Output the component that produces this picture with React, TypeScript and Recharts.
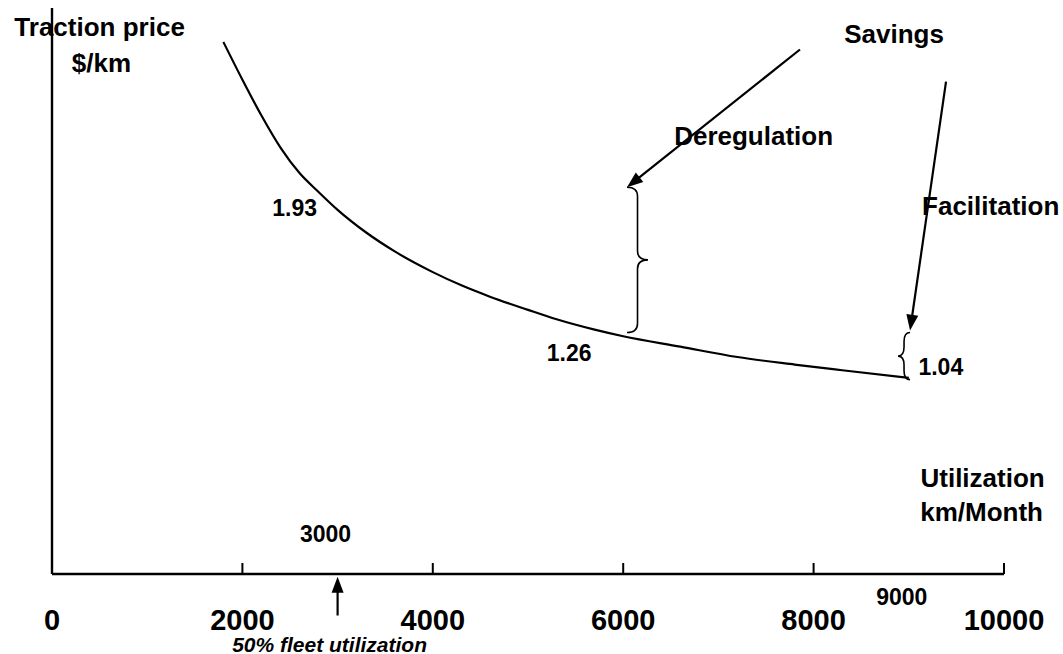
import React from 'react';
import { LineChart, Line, XAxis, YAxis, ReferenceDot, ReferenceLine } from 'recharts';

// utilization (km/month) and traction price ($/km)
const utilization = [1800, 2000, 2200, 2400, 2600, 2800, 3000, 3300, 3600, 4000, 4300, 4600, 5000, 5300, 5700, 6000, 6600, 7200, 7800, 8300, 9000];
const price = [2.82, 2.62, 2.43, 2.26, 2.125, 2.025, 1.93, 1.81, 1.71, 1.6, 1.53, 1.47, 1.4, 1.35, 1.295, 1.26, 1.205, 1.15, 1.11, 1.08, 1.04];
const xTicks = [0, 2000, 4000, 6000, 8000, 10000];

const chartData = utilization.map((km, i) => ({ km, price: price[i] }));

const FONT = '"Liberation Sans", Arial, Helvetica, sans-serif';

// free text placed in chart units
const titles = [
  { text: 'Traction price', x: 500, y: 2.9 },
  { text: '$/km', x: 520, y: 2.71 },
  { text: 'Savings', x: 8845, y: 2.86 },
  { text: 'Deregulation', x: 7370, y: 2.32 },
  { text: 'Facilitation', x: 9860, y: 1.95 },
  { text: 'Utilization', x: 9775, y: 0.51 },
  { text: 'km/Month', x: 9765, y: 0.33 },
];

// labels tied to points of the curve / axis
const valueLabels = [
  { text: '1.93', x: 3000, y: 1.93, dx: -43, dy: -2, size: 23, italic: false },
  { text: '1.26', x: 6000, y: 1.26, dx: -54, dy: 17, size: 23, italic: false },
  { text: '1.04', x: 9000, y: 1.04, dx: 32, dy: -11, size: 23, italic: false },
  { text: '3000', x: 3000, y: 0, dx: -12, dy: -40, size: 23, italic: false },
  { text: '9000', x: 9000, y: 0, dx: -7, dy: 23, size: 23, italic: false },
  { text: '50% fleet utilization', x: 3000, y: 0, dx: -8, dy: 70, size: 21, italic: true },
];

const arrows = [
  [{ x: 7857, y: 2.78 }, { x: 6040, y: 2.05 }],
  [{ x: 9391, y: 2.61 }, { x: 9013, y: 1.29 }],
  [{ x: 3000, y: -0.22 }, { x: 3000, y: -0.015 }],
];

const braces = [
  { seg: [{ x: 6040, y: 2.05 }, { x: 6040, y: 1.28 }], dir: 1, w: 21 },
  { seg: [{ x: 9013, y: 1.28 }, { x: 9013, y: 1.03 }], dir: -1, w: 12 },
];

const textShape = (text: string, dx: number, dy: number, size: number, italic = false) => (p: any) => (
  <text
    x={p.cx + dx}
    y={p.cy + dy}
    textAnchor="middle"
    dominantBaseline="central"
    fontFamily={FONT}
    fontWeight="bold"
    fontStyle={italic ? 'italic' : 'normal'}
    fontSize={size}
    fill="#000"
  >
    {text}
  </text>
);

const arrowShape = (p: any) => {
  const { x1, y1, x2, y2 } = p;
  const len = Math.hypot(x2 - x1, y2 - y1);
  const ux = (x2 - x1) / len;
  const uy = (y2 - y1) / len;
  const head = 16;
  const half = 6;
  const bx = x2 - ux * head;
  const by = y2 - uy * head;
  return (
    <g>
      <line x1={x1} y1={y1} x2={bx + ux} y2={by + uy} stroke="#000" strokeWidth={2.2} />
      <polygon
        points={`${x2},${y2} ${bx - uy * half},${by + ux * half} ${bx + uy * half},${by - ux * half}`}
        fill="#000"
      />
    </g>
  );
};

const braceShape = (dir: number, w: number) => (p: any) => {
  const { x1, y1, y2 } = p;
  const x = x1;
  const xm = x + (dir * w) / 2;
  const xt = x + dir * w;
  const ym = (y1 + y2) / 2;
  const r = Math.min(9, (y2 - y1) / 5);
  const d = `M${x},${y1} Q${xm},${y1} ${xm},${y1 + r} L${xm},${ym - r} Q${xm},${ym} ${xt},${ym} Q${xm},${ym} ${xm},${ym + r} L${xm},${y2 - r} Q${xm},${y2} ${x},${y2}`;
  return <path d={d} fill="none" stroke="#000" strokeWidth={1.6} />;
};

const XTick = (props: any) => {
  const { x, y, payload } = props;
  return (
    <g>
      <line x1={x} y1={y} x2={x} y2={y - 11} stroke="#000" strokeWidth={2} />
      <text
        x={x}
        y={y + 46}
        textAnchor="middle"
        dominantBaseline="central"
        fontFamily={FONT}
        fontWeight="bold"
        fontSize={29}
        fill="#000"
      >
        {payload.value}
      </text>
    </g>
  );
};

export default function App() {
  return (
    <div style={{ position: 'absolute', left: 0, top: 0, background: '#fff' }}>
      <LineChart width={1063} height={654} data={chartData} margin={{ top: 8, right: 59, bottom: 79, left: 51 }}>
        <XAxis
          dataKey="km"
          type="number"
          domain={[0, 10000]}
          ticks={xTicks}
          interval={0}
          height={1}
          tickSize={0}
          tickMargin={0}
          tickLine={false}
          tick={<XTick />}
          axisLine={{ stroke: '#000', strokeWidth: 2.5 }}
        />
        <YAxis
          type="number"
          domain={[0, 3]}
          width={1}
          tick={false}
          tickLine={false}
          axisLine={{ stroke: '#000', strokeWidth: 2.4 }}
        />
        <Line
          type="monotone"
          dataKey="price"
          stroke="#000"
          strokeWidth={2.2}
          dot={false}
          activeDot={false}
          isAnimationActive={false}
        />
        {braces.map((b, i) => (
          <ReferenceLine key={`brace-${i}`} segment={b.seg} ifOverflow="visible" shape={braceShape(b.dir, b.w)} />
        ))}
        {arrows.map((a, i) => (
          <ReferenceLine key={`arrow-${i}`} segment={a} ifOverflow="visible" shape={arrowShape} />
        ))}
        {titles.map((t) => (
          <ReferenceDot key={t.text} x={t.x} y={t.y} r={0} ifOverflow="visible" shape={textShape(t.text, 0, 0, 26)} />
        ))}
        {valueLabels.map((v) => (
          <ReferenceDot
            key={v.text}
            x={v.x}
            y={v.y}
            r={0}
            ifOverflow="visible"
            shape={textShape(v.text, v.dx, v.dy, v.size, v.italic)}
          />
        ))}
      </LineChart>
    </div>
  );
}
